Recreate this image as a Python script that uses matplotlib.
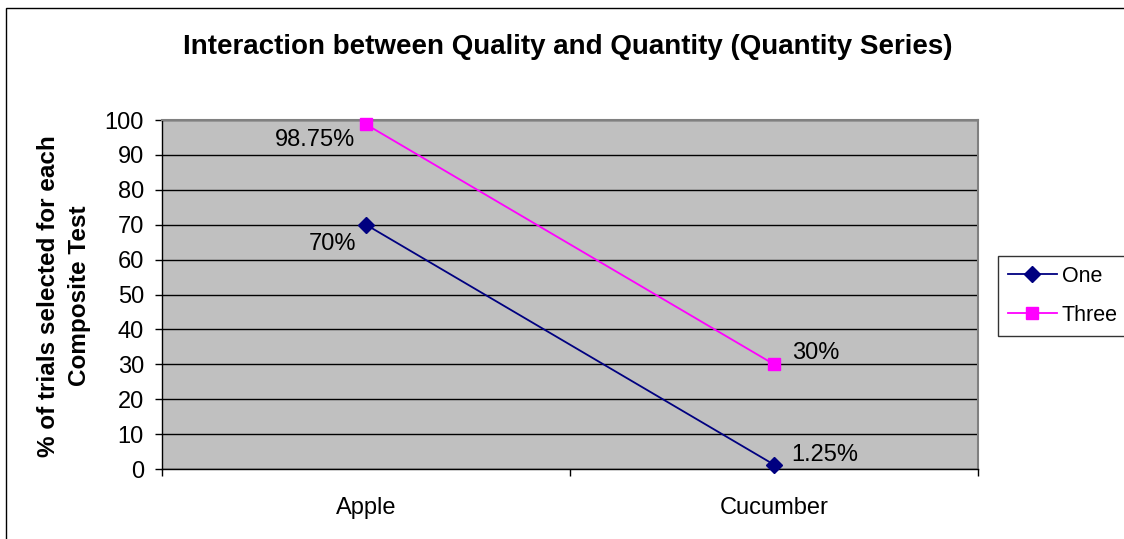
import matplotlib
matplotlib.use("Agg")
import matplotlib.pyplot as plt
from matplotlib.patches import Rectangle

categories = ["Apple", "Cucumber"]
series_names = ["One", "Three"]
one_vals = [70, 1.25]
three_vals = [98.75, 30]
one_labels = ["70%", "1.25%"]
three_labels = ["98.75%", "30%"]
yticks = list(range(0, 101, 10))
title = "Interaction between Quality and Quantity (Quantity Series)"
ylabel = "% of trials selected for each\nComposite Test"

plt.rcParams['font.family'] = ['Liberation Sans', 'DejaVu Sans']

W, H = 1124, 539
fig = plt.figure(figsize=(W / 100, H / 100), dpi=100)
fig.patch.set_facecolor('white')

# figure border (only top and left visible in the cropped reference)
fig.add_artist(Rectangle((6.5 / W, -20 / H), (W + 20) / W, (H + 20 - 7.5) / H, transform=fig.transFigure,
                         fill=False, edgecolor='black', linewidth=1))

L, R, T, B = 162, 978, 120, 469
ax = fig.add_axes([L / W, (H - B) / H, (R - L) / W, (B - T) / H])
ax.set_facecolor('#C0C0C0')

xs = [i + 0.5 for i in range(len(categories))]
ax.plot(xs, one_vals, color='#000080', marker='D', markersize=8, linewidth=1.3,
        label=series_names[0], zorder=3, clip_on=False)
ax.plot(xs, three_vals, color='#FF00FF', marker='s', markersize=8, linewidth=1.3,
        label=series_names[1], zorder=3, clip_on=False)

fs = 17
# data labels
ax.annotate(three_labels[0], (xs[0], three_vals[0]), xytext=(-51, -16), textcoords='offset pixels',
            ha='center', va='center', fontsize=fs)
ax.annotate(one_labels[0], (xs[0], one_vals[0]), xytext=(-34, -19), textcoords='offset pixels',
            ha='center', va='center', fontsize=fs)
ax.annotate(three_labels[1], (xs[1], three_vals[1]), xytext=(42, 11), textcoords='offset pixels',
            ha='center', va='center', fontsize=fs)
ax.annotate(one_labels[1], (xs[1], one_vals[1]), xytext=(51, 10), textcoords='offset pixels',
            ha='center', va='center', fontsize=fs)

ax.set_xlim(0, len(categories))
ax.set_ylim(0, 100)
ax.set_yticks(yticks)
ax.set_yticklabels([str(t) for t in yticks], fontsize=fs)
ax.yaxis.grid(True, color='black', linewidth=1)
ax.set_axisbelow(True)

ax.set_xticks(range(len(categories) + 1))
ax.set_xticklabels([])
ax.set_xticks(xs, minor=True)
ax.set_xticklabels(categories, minor=True, fontsize=fs)
ax.tick_params(axis='x', which='minor', length=0, pad=20)
ax.tick_params(axis='x', which='major', length=5, width=1, color='black', direction='out')
ax.tick_params(axis='y', length=5, width=1, color='black', direction='out', pad=8)

for s in ['top', 'right']:
    ax.spines[s].set_color('#808080')
    ax.spines[s].set_linewidth(1.5)
for s in ['left', 'bottom']:
    ax.spines[s].set_color('black')
    ax.spines[s].set_linewidth(1)

fig.text(568 / W, 1 - 47 / H, title, ha='center', va='center', fontsize=20, fontweight='bold')
fig.text(64 / W, 1 - 296 / H, ylabel, ha='center', va='center', fontsize=17.5, fontweight='bold',
         rotation=90, linespacing=1.45)

leg = ax.legend(loc='upper left', bbox_to_anchor=(998 / W, 1 - 256 / H), bbox_transform=fig.transFigure,
                fontsize=15.5, frameon=True, fancybox=False, edgecolor='black', borderpad=0.45,
                handlelength=2.3, handletextpad=0.2, labelspacing=0.85, borderaxespad=0)
leg.get_frame().set_linewidth(1)

fig.savefig('out.png', dpi=100)
